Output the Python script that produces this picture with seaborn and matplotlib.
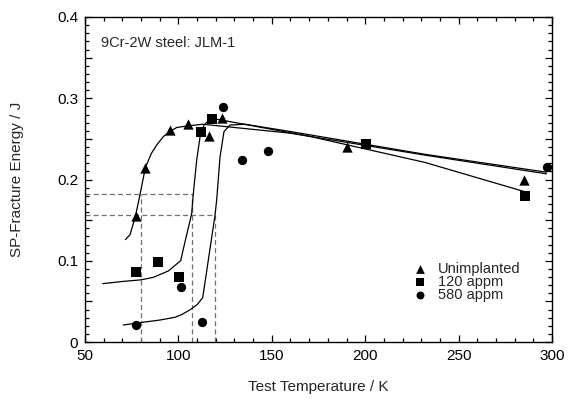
import matplotlib
matplotlib.use("Agg")
import matplotlib.pyplot as plt
import seaborn as sns
import pandas as pd
from matplotlib.ticker import MultipleLocator, FuncFormatter

# ---- measured points ----
unimp_T = [77.3, 82.3, 95.5, 105.1, 116.2, 123.2, 190.1, 285.0]
unimp_E = [0.155, 0.2145, 0.261, 0.268, 0.2535, 0.276, 0.2396, 0.200]
a120_T = [77.3, 89.3, 100.3, 112.3, 118.2, 200.3, 285.4]
a120_E = [0.0865, 0.0989, 0.0804, 0.2585, 0.2749, 0.2433, 0.1797]
a580_T = [77.3, 101.4, 112.5, 123.7, 134.0, 148.1, 297.5]
a580_E = [0.0213, 0.0677, 0.0242, 0.2888, 0.2236, 0.2347, 0.215]

# ---- fitted curves ----
fitU_T = [71.6, 74.1, 77.0, 79.5, 82.3, 85.5, 88.4, 92.0, 95.5, 99.1, 105.0, 113.0, 160.0, 232.0, 297.0]
fitU_E = [0.126, 0.132, 0.155, 0.182, 0.2145, 0.232, 0.2425, 0.253, 0.259, 0.264, 0.266, 0.268, 0.257, 0.230, 0.207]
fit120_T = [59.5, 70.0, 80.0, 86.6, 94.6, 101.2, 104.0, 106.0, 107.1, 108.0, 109.8, 111.6, 113.7, 116.0, 118.5, 140.0, 170.5, 232.0, 285.4]
fit120_E = [0.0718, 0.0745, 0.0765, 0.0796, 0.0874, 0.100, 0.128, 0.147, 0.158, 0.183, 0.224, 0.2527, 0.267, 0.272, 0.275, 0.266, 0.253, 0.221, 0.185]
fit580_T = [70.5, 80.0, 90.0, 98.2, 102.0, 106.6, 110.0, 113.0, 115.0, 117.0, 119.6, 120.5, 122.3, 124.4, 127.6, 135.7, 160.0, 232.0, 297.0]
fit580_E = [0.0209, 0.024, 0.027, 0.0304, 0.034, 0.0402, 0.046, 0.0545, 0.085, 0.116, 0.156, 0.175, 0.228, 0.259, 0.267, 0.268, 0.259, 0.231, 0.209]

# ---- transition temperature guides ----
dbtt_T = [80.0, 107.2, 119.6]
dbtt_E = [0.182, 0.182, 0.1563]

labels = ["Unimplanted", "120 appm", "580 appm"]
markers = ["^", "s", "o"]

sns.set_style("ticks")
plt.rcParams['font.family'] = ['Liberation Sans', 'DejaVu Sans']

fig = plt.figure(figsize=(5.68, 3.99), dpi=100)
ax = fig.add_axes([85/568, 1 - 342/399, (552-85)/568, (342-17)/399])

# guides
xmin, xmax = 50, 300
for T, E in zip(dbtt_T, dbtt_E):
    ax.plot([T, T], [0, E], ls=(0, (4, 2.5)), color="#707070", lw=0.9, zorder=1)
ax.plot([xmin, dbtt_T[1]], [dbtt_E[0], dbtt_E[0]], ls=(0, (4, 2.5)), color="#707070", lw=0.9, zorder=1)
ax.plot([xmin, dbtt_T[2]], [dbtt_E[2], dbtt_E[2]], ls=(0, (4, 2.5)), color="#707070", lw=0.9, zorder=1)

# fitted curves
for T, E in [(fitU_T, fitU_E), (fit120_T, fit120_E), (fit580_T, fit580_E)]:
    sns.lineplot(x=T, y=E, ax=ax, color="black", lw=0.9, sort=False, estimator=None, zorder=2)

# points
for T, E, lab, m, s in zip([unimp_T, a120_T, a580_T], [unimp_E, a120_E, a580_E], labels, markers, [55, 48, 45]):
    sns.scatterplot(x=T, y=E, ax=ax, marker=m, s=s, color="black", edgecolor="black", linewidth=0, label=lab, zorder=3)

ax.set_xlim(xmin, xmax)
ax.set_ylim(0, 0.4)
ax.xaxis.set_major_locator(MultipleLocator(50))
ax.xaxis.set_minor_locator(MultipleLocator(10))
ax.yaxis.set_major_locator(MultipleLocator(0.05))
ax.yaxis.set_minor_locator(MultipleLocator(0.01))

def yfmt(v, pos):
    r = round(v * 10)
    if abs(v * 10 - r) > 1e-6:
        return ""
    return "0" if r == 0 else f"{v:.1f}"
ax.yaxis.set_major_formatter(FuncFormatter(yfmt))

ax.tick_params(which="both", direction="in", top=True, right=True, width=0.9, labelsize=11, colors="black")
ax.tick_params(which="major", length=5, pad=5)
ax.tick_params(which="minor", length=3)
for sp in ax.spines.values():
    sp.set_linewidth(1.0)
    sp.set_color("black")

ax.set_xlabel("Test Temperature / K", fontsize=11, labelpad=12)
ax.set_ylabel("SP-Fracture Energy / J", fontsize=11, labelpad=24)

ax.text(0.035, 0.92, "9Cr-2W steel: JLM-1", transform=ax.transAxes, fontsize=10.5, va="center", ha="left")

leg = ax.legend(loc="upper left", bbox_to_anchor=(0.69, 0.27), frameon=False, fontsize=10.5,
                handlelength=0.8, handletextpad=0.8, labelspacing=-0.05, borderpad=0, markerscale=0.85)

fig.savefig("out.png", dpi=100)
